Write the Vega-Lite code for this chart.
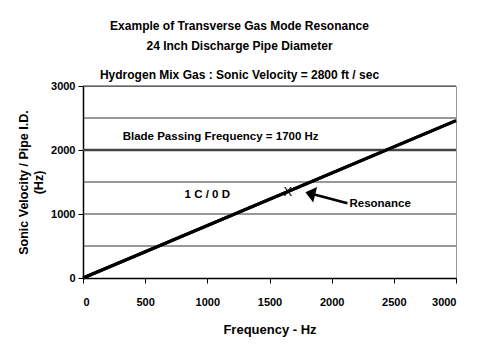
{
  "$schema": "https://vega.github.io/schema/vega-lite/v6.json",
  "autosize": "none",
  "width": 373,
  "height": 192,
  "padding": {"left": 83, "top": 86, "right": 24, "bottom": 82},
  "background": "white",
  "config": {
    "font": "Liberation Sans",
    "view": {"stroke": "#999", "strokeWidth": 1}
  },
  "title": {
    "text": ["Example of Transverse Gas Mode Resonance", "24 Inch Discharge Pipe Diameter"],
    "subtitle": "Hydrogen Mix Gas : Sonic Velocity  = 2800 ft / sec",
    "anchor": "middle",
    "dx": -30,
    "fontSize": 12,
    "fontWeight": "bold",
    "lineHeight": 20,
    "subtitleFontSize": 12,
    "subtitleFontWeight": "bold",
    "subtitleColor": "black",
    "subtitlePadding": 17,
    "offset": -2,
    "color": "black"
  },
  "datasets": {
    "line": [{"freq": 0, "vel": 0}, {"freq": 3000, "vel": 2459}],
    "grid": [{"vel": 500}, {"vel": 1000}, {"vel": 1500}, {"vel": 2500}, {"vel": 3000}],
    "blade": [{"vel": 2000}],
    "labels": [
      {"freq": 319, "vel": 2200, "label": "Blade Passing Frequency = 1700 Hz"},
      {"freq": 817, "vel": 1293, "label": "1 C / 0 D"},
      {"freq": 2143, "vel": 1160, "label": "Resonance"}
    ],
    "xmark": [{"freq": 1647, "vel": 1345, "label": "X"}],
    "arrow": [{"freq": 1853, "vel": 1309, "freq2": 2127, "vel2": 1168}],
    "head": [{"freq": 1789, "vel": 1340}]
  },
  "layer": [
    {
      "data": {"name": "line"},
      "mark": {"type": "line", "color": "black", "strokeWidth": 3},
      "encoding": {
        "x": {
          "field": "freq", "type": "quantitative",
          "scale": {"domain": [0, 3000], "nice": false, "zero": true},
          "axis": {
            "values": [0, 500, 1000, 1500, 2000, 2500, 3000],
            "format": "d",
            "grid": false,
            "domainColor": "black", "domainWidth": 1.5,
            "tickColor": "black", "tickSize": 5,
            "labelFontSize": 11, "labelFontWeight": "bold", "labelColor": "black",
            "labelPadding": 13,
            "title": "Frequency - Hz",
            "titleFontSize": 13, "titleFontWeight": "bold", "titleColor": "black",
            "titlePadding": 16
          }
        },
        "y": {
          "field": "vel", "type": "quantitative",
          "scale": {"domain": [0, 3000], "nice": false},
          "axis": {
            "values": [0, 500, 1000, 1500, 2000, 2500, 3000],
            "format": "d",
            "grid": false,
            "domainColor": "black", "domainWidth": 1.5,
            "tickColor": "black", "tickSize": 5,
            "labelFontSize": 11, "labelFontWeight": "bold", "labelColor": "black",
            "labelPadding": 3,
            "title": ["Sonic Velocity / Pipe I.D.", "(Hz)"],
            "titleFontSize": 12.5, "titleFontWeight": "bold", "titleColor": "black",
            "titleLineHeight": 15,
            "titlePadding": 5
          }
        }
      }
    },
    {
      "data": {"name": "grid"},
      "mark": {"type": "rule", "color": "#333", "strokeWidth": 1},
      "encoding": {"y": {"field": "vel", "type": "quantitative"}}
    },
    {
      "data": {"name": "blade"},
      "mark": {"type": "rule", "color": "#444", "strokeWidth": 2.5},
      "encoding": {"y": {"field": "vel", "type": "quantitative"}}
    },
    {
      "data": {"name": "line"},
      "mark": {"type": "line", "color": "black", "strokeWidth": 3},
      "encoding": {
        "x": {"field": "freq", "type": "quantitative"},
        "y": {"field": "vel", "type": "quantitative"}
      }
    },
    {
      "data": {"name": "labels"},
      "mark": {"type": "text", "fontSize": 11.5, "fontWeight": "bold", "color": "black", "baseline": "middle", "align": "left"},
      "encoding": {
        "x": {"field": "freq", "type": "quantitative"},
        "y": {"field": "vel", "type": "quantitative"},
        "text": {"field": "label"}
      }
    },
    {
      "data": {"name": "xmark"},
      "mark": {"type": "text", "fontSize": 13, "fontWeight": "normal", "color": "black", "baseline": "middle", "align": "center"},
      "encoding": {
        "x": {"field": "freq", "type": "quantitative"},
        "y": {"field": "vel", "type": "quantitative"},
        "text": {"field": "label"}
      }
    },
    {
      "data": {"name": "arrow"},
      "mark": {"type": "rule", "color": "black", "strokeWidth": 2.5},
      "encoding": {
        "x": {"field": "freq", "type": "quantitative"},
        "y": {"field": "vel", "type": "quantitative"},
        "x2": {"field": "freq2"},
        "y2": {"field": "vel2"}
      }
    },
    {
      "data": {"name": "head"},
      "mark": {"type": "point", "shape": "M 0 0 L 1 -0.8 L 1 0.8 Z", "filled": true, "color": "black", "opacity": 1, "size": 400, "angle": 14},
      "encoding": {
        "x": {"field": "freq", "type": "quantitative"},
        "y": {"field": "vel", "type": "quantitative"}
      }
    }
  ]
}
